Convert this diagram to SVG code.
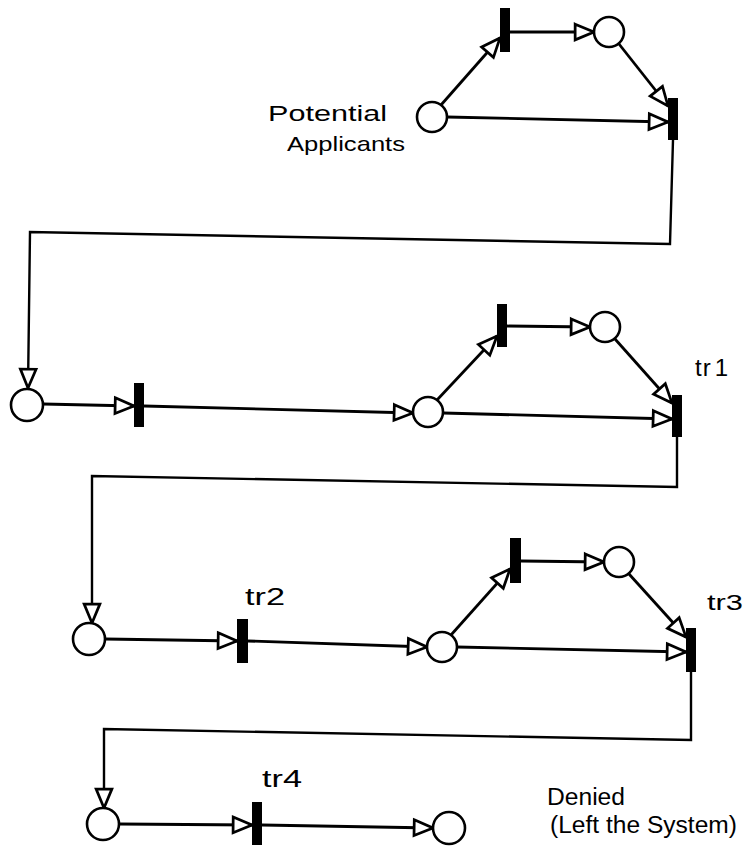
<svg xmlns="http://www.w3.org/2000/svg" width="751" height="860" viewBox="0 0 751 860">
<style>
.place{fill:#fff;stroke:#000;stroke-width:2.6}
.trans{fill:#000;stroke:none}
.arc{fill:none;stroke:#000;stroke-width:2.8;marker-end:url(#ah)}
.conn{fill:none;stroke:#000;stroke-width:2.4;stroke-linejoin:miter;marker-end:url(#ah)}
.lbl{font-family:"Liberation Sans",Arial,sans-serif;fill:#000}
</style>
<defs>
<marker id="ah" markerUnits="userSpaceOnUse" markerWidth="26" markerHeight="22" viewBox="-3 -3 24 21" refX="18" refY="7.5" orient="auto">
<path d="M0,0 L18,7.5 L0,15 Z" fill="#fff" stroke="#000" stroke-width="2.6" stroke-linejoin="miter"/>
</marker>
</defs>
<g id="connectors">
<path class="arc" d="M441,105 L500,38"/>
<path class="arc" d="M510,32 L594,32"/>
<path class="arc" d="M619,44 L668,106"/>
<path class="arc" d="M447,117 L668,122"/>
<path class="conn" d="M673,140 L670,244 L30,232 L28,388"/>
<path class="arc" d="M43,404 L134,406"/>
<path class="arc" d="M144,406 L413,413"/>
<path class="arc" d="M437,400 L497,336"/>
<path class="arc" d="M507,326 L590,327"/>
<path class="arc" d="M615,339 L672,403"/>
<path class="arc" d="M443,413 L672,419"/>
<path class="conn" d="M677,437 L677,487 L92,476 L92,623"/>
<path class="arc" d="M105,639 L237,641"/>
<path class="arc" d="M248,641 L427,647"/>
<path class="arc" d="M451,635 L510,569"/>
<path class="arc" d="M521,561 L604,562"/>
<path class="arc" d="M629,574 L686,637"/>
<path class="arc" d="M457,647 L686,652"/>
<path class="conn" d="M691,672 L691,740 L104,729 L104,808"/>
<path class="arc" d="M119,824 L252,825"/>
<path class="arc" d="M262,825 L433,828"/>
</g>
<g id="potential_applicants"><circle class="place" cx="432" cy="117" r="15"/></g>
<g id="t0a"><rect class="trans" x="500" y="8" width="10" height="44"/></g>
<g id="p0b"><circle class="place" cx="609" cy="32" r="15"/></g>
<g id="t0b"><rect class="trans" x="668" y="98" width="10" height="42"/></g>
<g id="p1"><circle class="place" cx="27" cy="405" r="16"/></g>
<g id="t1"><rect class="trans" x="134" y="383" width="10" height="44"/></g>
<g id="p2"><circle class="place" cx="428" cy="412" r="15"/></g>
<g id="t2a"><rect class="trans" x="497" y="304" width="10" height="43"/></g>
<g id="p3"><circle class="place" cx="605" cy="327" r="15"/></g>
<g id="tr1"><rect class="trans" x="672" y="395" width="10" height="42"/></g>
<g id="p4"><circle class="place" cx="89" cy="639" r="16"/></g>
<g id="tr2"><rect class="trans" x="237" y="619" width="11" height="44"/></g>
<g id="p5"><circle class="place" cx="442" cy="647" r="15"/></g>
<g id="t3a"><rect class="trans" x="510" y="538" width="11" height="45"/></g>
<g id="p6"><circle class="place" cx="619" cy="562" r="15"/></g>
<g id="tr3"><rect class="trans" x="686" y="628" width="10" height="44"/></g>
<g id="p7"><circle class="place" cx="103" cy="824" r="16"/></g>
<g id="tr4"><rect class="trans" x="252" y="802" width="10" height="43"/></g>
<g id="denied"><circle class="place" cx="449" cy="828" r="16"/></g>
<g id="labels">
<text class="lbl" x="268" y="121" font-size="22" textLength="119" lengthAdjust="spacingAndGlyphs">Potential</text>
<text class="lbl" x="287" y="151" font-size="21" textLength="118" lengthAdjust="spacingAndGlyphs">Applicants</text>
<text class="lbl" x="695" y="376" font-size="24">t<tspan dx="1">r</tspan><tspan dx="4">1</tspan></text>
<text class="lbl" x="245" y="605" font-size="23" textLength="40" lengthAdjust="spacingAndGlyphs">tr2</text>
<text class="lbl" x="707" y="610" font-size="22" textLength="36" lengthAdjust="spacingAndGlyphs">tr3</text>
<text class="lbl" x="262" y="787" font-size="23" textLength="40" lengthAdjust="spacingAndGlyphs">tr4</text>
<text class="lbl" x="547" y="805" font-size="23" textLength="78" lengthAdjust="spacingAndGlyphs">Denied</text>
<text class="lbl" x="550" y="833" font-size="23" textLength="187" lengthAdjust="spacingAndGlyphs">(Left the System)</text>
</g>
</svg>
